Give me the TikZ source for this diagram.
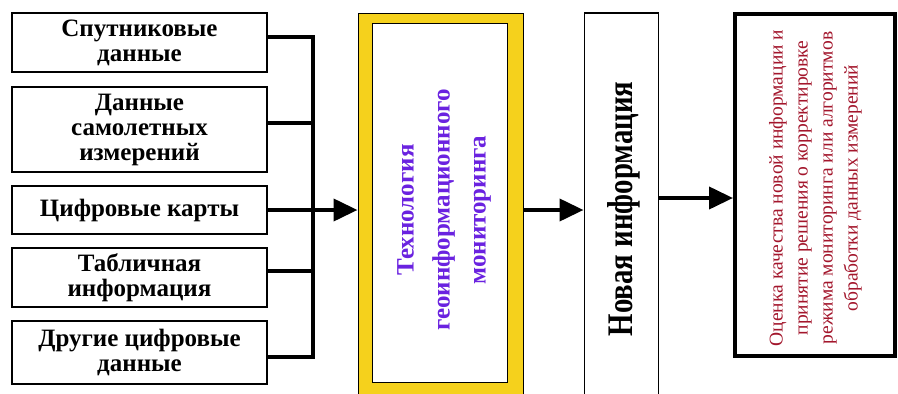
\documentclass[tikz,border=0pt]{standalone}
\usepackage{fontspec}
\setmainfont{Liberation Serif}
\usetikzlibrary{arrows.meta}
\definecolor{gold}{HTML}{F5D11C}
\definecolor{violettext}{HTML}{6A22E0}
\definecolor{wine}{HTML}{A3162C}
\begin{document}
\begin{tikzpicture}[x=1pt,y=-1pt,
  srcbox/.style={draw, line width=2.5pt, minimum width=255pt, inner sep=0pt, align=center,
    font=\fontsize{25}{25}\selectfont\bfseries},
  link/.style={line width=3.5pt},
  arr/.style={line width=4pt, -{Triangle[length=24pt,width=22pt]}},
  vtext/.style={rotate=90, align=center, inner sep=0pt}]
\useasboundingbox (0,0) rectangle (898,394);
\clip (0,0) rectangle (898,394);
\fill[white] (0,0) rectangle (898,394);

% source boxes
\node[srcbox, minimum height=59pt] (s1) at (139.5,42.5) {Спутниковые\\данные};
\node[srcbox, minimum height=85pt] (s2) at (139.5,129.5) {Данные\\самолетных\\измерений};
\node[srcbox, minimum height=48pt] (s3) at (139.5,210) {Цифровые карты};
\node[srcbox, minimum height=59pt] (s4) at (139.5,277.5) {Табличная\\информация};
\node[srcbox, minimum height=63pt] (s5) at (139.5,352.5) {Другие цифровые\\данные};

% bus
\coordinate (bt) at (313,37);
\coordinate (c2) at (313,123);
\coordinate (c4) at (313,271);
\coordinate (bb) at (313,357);
\draw[link, line join=miter] (s1.east |- bt) -- (bt) -- (bb) -- (s5.east |- bb);
\draw[link] (s2.east |- c2) -- (c2);
\draw[link] (s3.east) -- (bb |- s3.east);
\draw[link] (s4.east |- c4) -- (c4);

% technology box
\node[draw, line width=1.2pt, fill=gold, minimum width=165pt, minimum height=420pt,
  inner sep=0pt, anchor=north west] (tyo) at (357.5,12.5) {};
\node[draw, line width=1.2pt, fill=white, minimum width=135pt, minimum height=359pt,
  inner sep=0pt] (tech) at (440,203) {};
\node[vtext, text=violettext, font=\fontsize{25}{36}\selectfont\bfseries] (techtxt) at (444,210)
  {Технология\\геоинформационного\\мониторинга};

% new information
\node[draw, line width=1.5pt, minimum width=74pt, minimum height=420pt,
  inner sep=0pt, anchor=north west] (newinfo) at (583.5,12) {};
\node[vtext, font=\fontsize{36}{40}\selectfont\bfseries] (newtxt) at (624,209)
  {\scalebox{0.8}[1]{Новая информация}};

% evaluation box
\node[draw, line width=4pt, minimum width=160pt, minimum height=342pt, inner sep=0pt] (eval) at (815,185) {};
\node[vtext, text=wine, font=\fontsize{19.5}{25}\selectfont] (evaltxt) at (815.5,188)
  {Оценка качества новой информации и\\принятие решения о корректировке\\режима мониторинга или алгоритмов\\обработки данных измерений};

% arrows
\coordinate (a3) at (0,198);
\draw[arr] (bb |- s3.east) -- (tyo.west |- s3.east);
\draw[arr] (tyo.east |- techtxt) -- (newinfo.west |- techtxt);
\draw[arr] (newinfo.east |- a3) -- (eval.west |- a3);
\end{tikzpicture}
\end{document}
